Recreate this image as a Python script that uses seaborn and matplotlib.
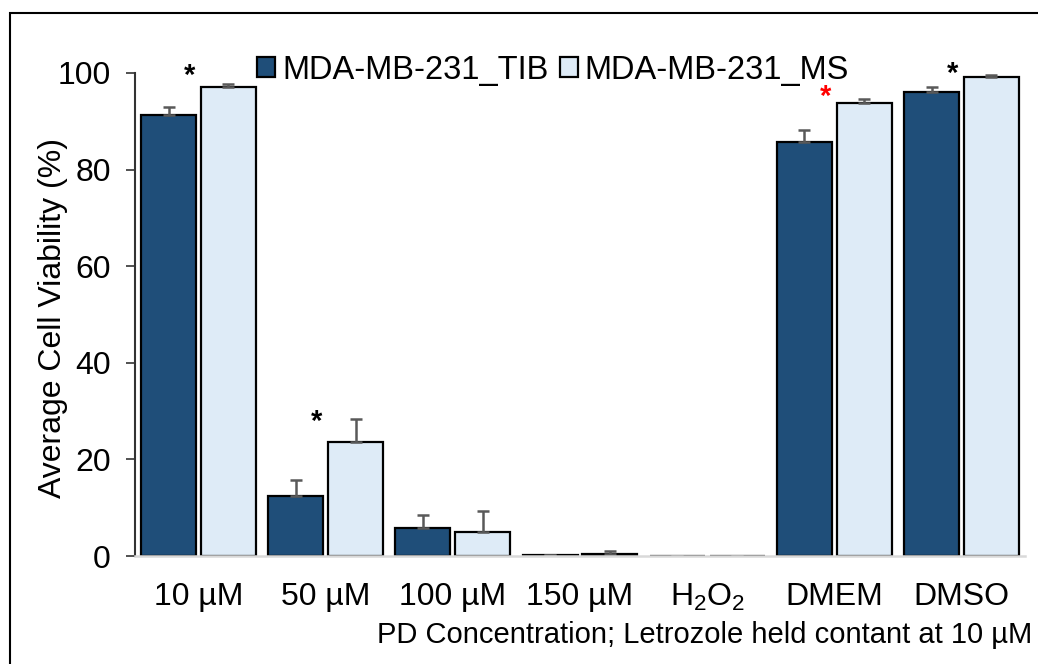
import numpy as np
import pandas as pd
import matplotlib
matplotlib.use("Agg")
import matplotlib.pyplot as plt
from matplotlib.patches import Rectangle
import seaborn as sns

# Treatment groups along the x axis
categories = ["10 µM", "50 µM", "100 µM", "150 µM",
              r"H$\mathregular{_2}$O$\mathregular{_2}$", "DMEM", "DMSO"]
series_names = ["MDA-MB-231_TIB", "MDA-MB-231_MS"]

# Mean viability (%) and standard deviation for each cell line
tib_mean = [91.3, 12.5, 5.9, 0.2, 0.0, 85.8, 96.0]
tib_err = [1.6, 3.2, 2.6, 0.1, 0.0, 2.3, 1.0]
ms_mean = [97.0, 23.7, 5.0, 0.5, 0.0, 93.8, 99.2]
ms_err = [0.8, 4.7, 4.4, 0.6, 0.0, 0.9, 0.3]

# Significance markers: (category index, height, colour)
star_cat = [0, 1, 5, 6]
star_y = [99.3, 27.8, 95.0, 99.9]
star_color = ["black", "black", "red", "black"]

colors = ["#1F4E79", "#DEEBF7"]

sns.set_theme(style="white")
plt.rcParams["font.family"] = ["Liberation Sans", "DejaVu Sans"]
plt.rcParams["mathtext.fontset"] = "custom"
plt.rcParams["mathtext.rm"] = "Liberation Sans"
plt.rcParams["text.color"] = "black"
plt.rcParams["axes.labelcolor"] = "black"

df = pd.DataFrame({
    "group": categories * 2,
    "line": [series_names[0]] * len(categories) + [series_names[1]] * len(categories),
    "value": tib_mean + ms_mean,
})

fig = plt.figure(figsize=(10.38, 6.64), dpi=100)
ax = fig.add_axes([135 / 1038, 1 - 556 / 664, 890 / 1038, 483 / 664])

sns.barplot(data=df, x="group", y="value", hue="line", order=categories,
            hue_order=series_names, palette=colors, errorbar=None,
            width=0.94, gap=0.08, edgecolor="black", linewidth=1.6,
            saturation=1, ax=ax)

# Upper-only error bars on top of each bar
for idx, (means, errs) in enumerate([(tib_mean, tib_err), (ms_mean, ms_err)]):
    bars = ax.containers[idx]
    xs = [b.get_x() + b.get_width() / 2 for b in bars]
    ax.errorbar(xs, means, yerr=[np.zeros(len(errs)), errs], fmt="none",
                ecolor="#595959", elinewidth=1.8, capsize=4.5, capthick=1.8,
                zorder=1)

# Asterisks next to the MS bars
for c, y, col in zip(star_cat, star_y, star_color):
    ax.text(c - 0.07, y, "*", ha="center", va="center", fontsize=21,
            fontweight="bold", color=col)

ax.set_ylim(0, 100)
ax.set_xlim(-0.5, len(categories) - 0.5)
ax.set_yticks([0, 20, 40, 60, 80, 100])
ax.tick_params(axis="y", which="both", left=True, length=6.5, width=1.2,
               color="#333333", pad=11, labelsize=23, labelcolor="black")
ax.tick_params(axis="x", length=0, pad=19, labelsize=23, labelcolor="black")

for s in ["top", "right"]:
    ax.spines[s].set_visible(False)
ax.spines["left"].set_color("#333333")
ax.spines["left"].set_linewidth(1.5)
ax.spines["bottom"].set_color("#D9D9D9")
ax.spines["bottom"].set_linewidth(1.8)

ax.set_ylabel("Average Cell Viability (%)", fontsize=23)
ax.yaxis.set_label_coords((68 - 135) / 890, 0.492)
ax.set_xlabel("PD Concentration; Letrozole held contant at 10 µM", fontsize=21)
ax.xaxis.set_label_coords((1032 - 135) / 890, (556 - 635) / 483)
ax.xaxis.label.set_ha("right")
ax.xaxis.label.set_va("center")

handles, labels = ax.get_legend_handles_labels()
ax.legend(handles, labels, loc="center", bbox_to_anchor=(553 / 1038, 1 - 70 / 664),
          bbox_transform=fig.transFigure, ncol=2, frameon=False, fontsize=23.5,
          handlelength=0.55, handleheight=0.55, handletextpad=0.2,
          columnspacing=0.35, borderaxespad=0)

# Outer frame of the figure
fig.patches.append(Rectangle((10 / 1038, -0.1), 1.2, 1 - 13 / 664 + 0.1,
                             transform=fig.transFigure, fill=False,
                             edgecolor="black", linewidth=1.5))

fig.savefig("out.png", dpi=100)
